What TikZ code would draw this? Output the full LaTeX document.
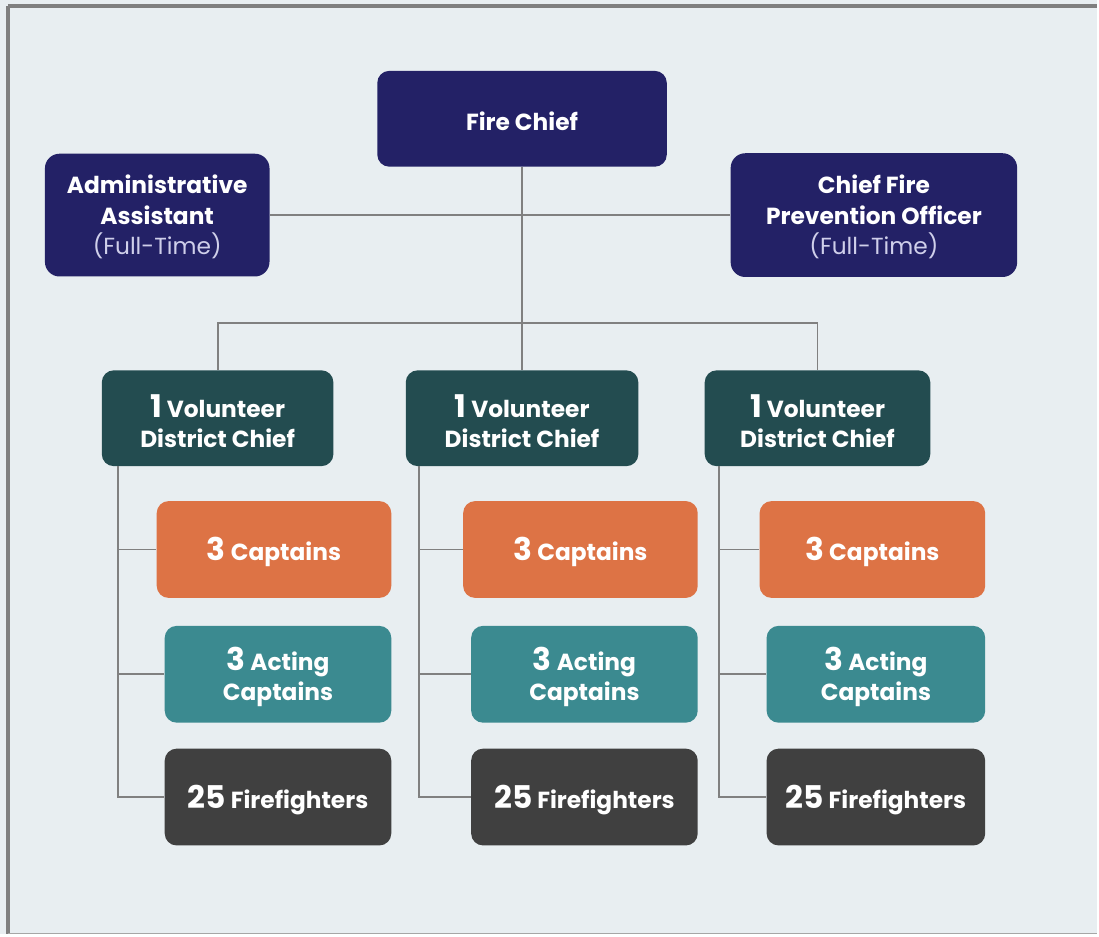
\documentclass[tikz,border=0pt]{standalone}
\usepackage{fontspec}
\setmainfont{Poppins}
\definecolor{bg}{HTML}{E8EEF1}
\definecolor{navy}{HTML}{232166}
\definecolor{dteal}{HTML}{234C50}
\definecolor{orng}{HTML}{DD7345}
\definecolor{tealbox}{HTML}{3B8A90}
\definecolor{dgray}{HTML}{404040}
\definecolor{lnk}{HTML}{808080}
\definecolor{frame}{HTML}{7F7F7F}
\definecolor{sub}{HTML}{CFCFEA}
% large count in front of a role, with a strut that sets the text a little lower
\newcommand\bignum[1]{\rule{0pt}{21.5pt}{\fontsize{23.5}{23.5}\selectfont #1}}
\newcommand\subline[1]{{\mdseries\color{sub}#1}}
\newcommand\lift{\rule{0pt}{17pt}}
\tikzset{
  box/.style={rounded corners=9pt, text=white, align=center, inner sep=0pt,
    font=\bfseries\fontsize{17.5}{23}\selectfont},
  sz/.style 2 args={minimum width=#1*0.75pt, minimum height=#2*0.75pt},
  link/.style={draw=lnk, line width=1.4pt},
}
\begin{document}
\begin{tikzpicture}[x=0.75pt,y=-0.75pt]
  % canvas and frame
  \fill[bg] (0,0) rectangle (1099,936);
  \draw[frame, line width=3pt] (8,6) -- (1099,6);
  \draw[frame, line width=3pt] (8,6) -- (8,936);
  \draw[lnk!70, line width=1.2pt] (8,935) -- (1099,935);

  % top level
  \node[box, sz={290}{96}, fill=navy] (fc) at (523,119) {\lift Fire Chief};
  \node[box, sz={225}{123}, fill=navy, rounded corners=11pt] (aa) at (157.5,215.5)
    {\lift Administrative\\Assistant\\\subline{(Full-Time)}};
  \node[box, sz={287}{124}, fill=navy, rounded corners=11pt] (cfpo) at (875.5,215.5)
    {\lift Chief Fire\\Prevention Officer\\\subline{(Full-Time)}};

  % district chiefs
  \node[box, sz={232}{96}, fill=dteal] (d1) at (218,419) {\bignum{1} Volunteer\\District Chief};
  \node[box, sz={233}{96}, fill=dteal] (d2) at (523,419) {\bignum{1} Volunteer\\District Chief};
  \node[box, sz={226}{96}, fill=dteal] (d3) at (819,419) {\bignum{1} Volunteer\\District Chief};

  % captains
  \node[box, sz={235}{97}, fill=orng] (c1) at (274.5,550.5) {\bignum{3} Captains};
  \node[box, sz={235}{97}, fill=orng] (c2) at (581.5,550.5) {\bignum{3} Captains};
  \node[box, sz={226}{97}, fill=orng] (c3) at (874,550.5) {\bignum{3} Captains};

  % acting captains
  \node[box, sz={227}{97}, fill=tealbox] (a1) at (278.5,675.5) {\bignum{3} Acting\\Captains};
  \node[box, sz={227}{97}, fill=tealbox] (a2) at (585.5,675.5) {\bignum{3} Acting\\Captains};
  \node[box, sz={219}{97}, fill=tealbox] (a3) at (877.5,675.5) {\bignum{3} Acting\\Captains};

  % firefighters
  \node[box, sz={227}{97}, fill=dgray] (f1) at (278.5,798.5) {\bignum{25} Firefighters};
  \node[box, sz={227}{97}, fill=dgray] (f2) at (585.5,798.5) {\bignum{25} Firefighters};
  \node[box, sz={219}{97}, fill=dgray] (f3) at (877.5,798.5) {\bignum{25} Firefighters};

  % connectors: tree from the chief, then a rail down each district column
  \coordinate (bus) at (523,324);
  \coordinate (t1) at (118,467);
  \coordinate (t2) at (420,467);
  \coordinate (t3) at (720,467);
  \draw[link] (aa.east) -- (cfpo.west);
  \draw[link] (fc.south) -- (d2.north);
  \draw[link] (d1.north) |- (bus) -| (d3.north);
  \foreach \i in {1,2,3}{
    \draw[link] (t\i) |- (f\i.west);
    \draw[link] (t\i |- c\i.west) -- (c\i.west);
    \draw[link] (t\i |- a\i.west) -- (a\i.west);
  }
\end{tikzpicture}
\end{document}
